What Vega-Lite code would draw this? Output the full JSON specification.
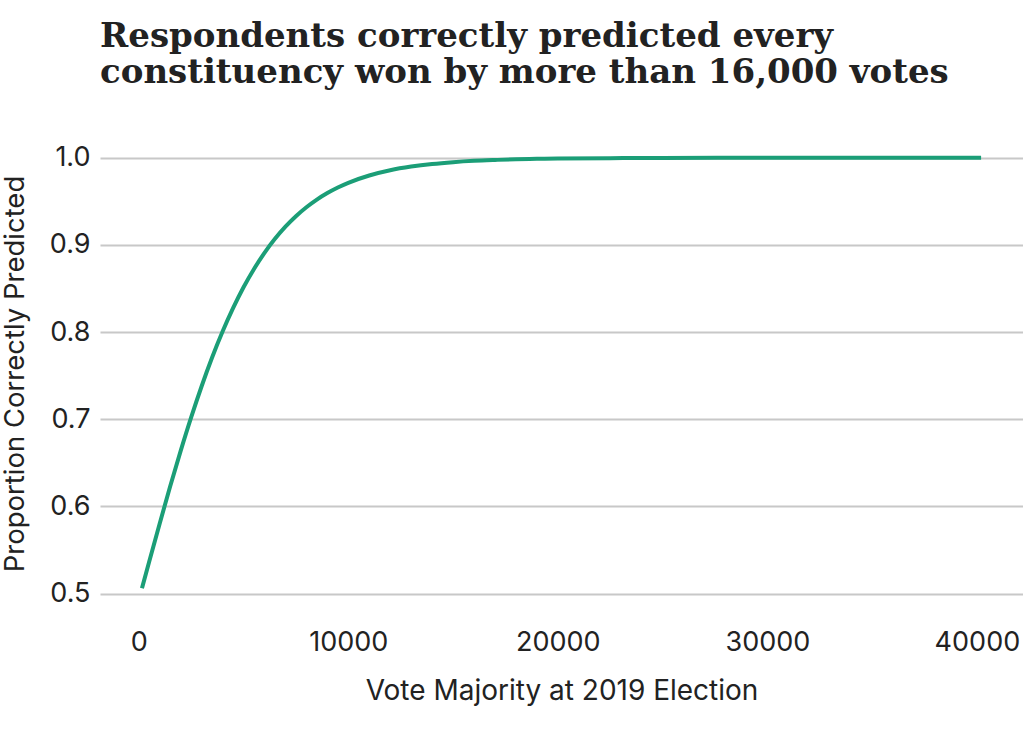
{
  "$schema": "https://vega.github.io/schema/vega-lite/v6.json",
  "autosize": "none",
  "width": 923,
  "height": 475,
  "padding": {"left": 100, "top": 136, "right": 0, "bottom": 130},
  "background": "white",
  "config": {
    "view": {"stroke": null},
    "axis": {
      "labelFont": "Inter",
      "titleFont": "Inter",
      "labelFontSize": 27,
      "titleFontSize": 28,
      "labelColor": "#222222",
      "titleColor": "#222222",
      "titleFontWeight": "normal",
      "domain": false,
      "ticks": false
    }
  },
  "title": {
    "text": ["Respondents correctly predicted every", "constituency won by more than 16,000 votes"],
    "anchor": "start",
    "frame": "group",
    "font": "DejaVu Serif",
    "fontWeight": "bold",
    "fontSize": 34,
    "lineHeight": 36,
    "color": "#222222",
    "offset": 46
  },
  "data": {
    "values": [
      {"majority": 153, "proportion": 0.5061},
      {"majority": 500, "proportion": 0.5368},
      {"majority": 1000, "proportion": 0.5805},
      {"majority": 1500, "proportion": 0.6231},
      {"majority": 2000, "proportion": 0.6637},
      {"majority": 2500, "proportion": 0.7021},
      {"majority": 3000, "proportion": 0.7379},
      {"majority": 3500, "proportion": 0.7708},
      {"majority": 4000, "proportion": 0.8006},
      {"majority": 4500, "proportion": 0.8274},
      {"majority": 5000, "proportion": 0.8514},
      {"majority": 5500, "proportion": 0.8724},
      {"majority": 6000, "proportion": 0.8909},
      {"majority": 6500, "proportion": 0.9070},
      {"majority": 7000, "proportion": 0.9209},
      {"majority": 7500, "proportion": 0.9329},
      {"majority": 8000, "proportion": 0.9432},
      {"majority": 8500, "proportion": 0.9520},
      {"majority": 9000, "proportion": 0.9595},
      {"majority": 9500, "proportion": 0.9659},
      {"majority": 10000, "proportion": 0.9713},
      {"majority": 11000, "proportion": 0.9797},
      {"majority": 12000, "proportion": 0.9857},
      {"majority": 13000, "proportion": 0.9899},
      {"majority": 14000, "proportion": 0.9929},
      {"majority": 15000, "proportion": 0.9950},
      {"majority": 16000, "proportion": 0.9965},
      {"majority": 17000, "proportion": 0.9975},
      {"majority": 18000, "proportion": 0.9983},
      {"majority": 19000, "proportion": 0.9988},
      {"majority": 20000, "proportion": 0.9992},
      {"majority": 22500, "proportion": 0.9996},
      {"majority": 25000, "proportion": 0.9999},
      {"majority": 30000, "proportion": 1.0},
      {"majority": 35000, "proportion": 1.0},
      {"majority": 40200, "proportion": 1.0}
    ]
  },
  "mark": {"type": "line", "color": "#1b9e77", "strokeWidth": 4, "interpolate": "monotone", "clip": true},
  "encoding": {
    "x": {
      "field": "majority",
      "type": "quantitative",
      "scale": {"domain": [-1850, 42200], "nice": false, "zero": false},
      "axis": {
        "title": "Vote Majority at 2019 Election",
        "values": [0, 10000, 20000, 30000, 40000],
        "format": "d",
        "grid": false,
        "labelPadding": 18,
        "titlePadding": 22
      }
    },
    "y": {
      "field": "proportion",
      "type": "quantitative",
      "scale": {"domain": [0.48, 1.025], "nice": false, "zero": false},
      "axis": {
        "title": "Proportion Correctly Predicted",
        "titleFontSize": 27.5,
        "titleBaseline": "alphabetic",
        "values": [0.5, 0.6, 0.7, 0.8, 0.9, 1.0],
        "format": ".1f",
        "grid": true,
        "gridColor": "#c8c8c8",
        "gridWidth": 2,
        "labelPadding": 10,
        "titleX": -77
      }
    }
  }
}
